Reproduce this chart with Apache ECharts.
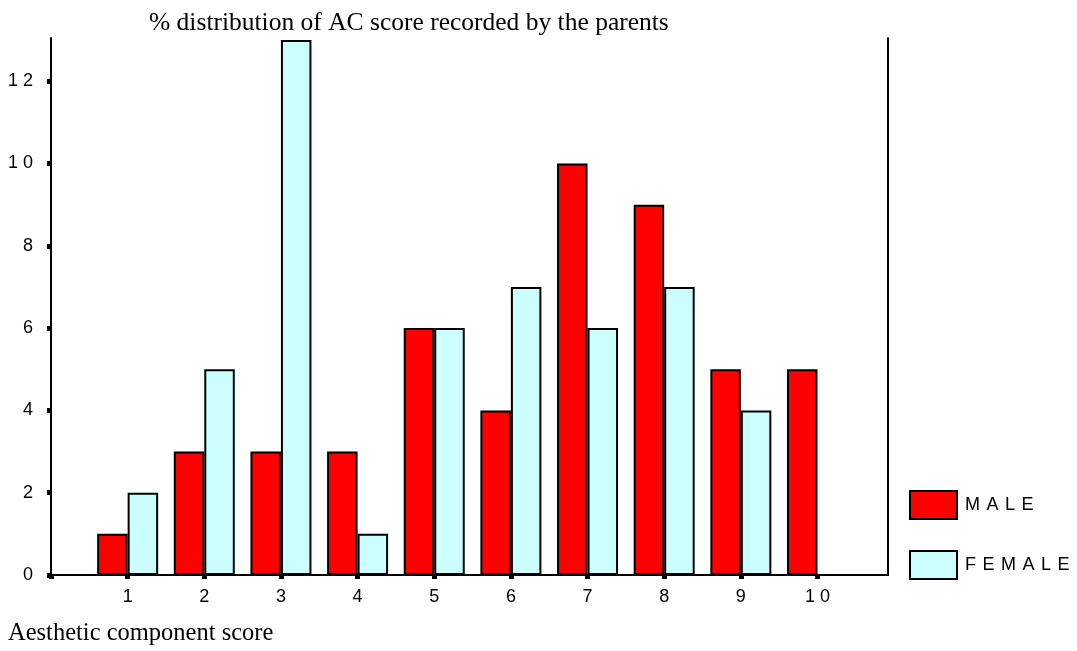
<!DOCTYPE html>
<html><head><meta charset="utf-8">
<script src="https://cdn.jsdelivr.net/npm/echarts@6/dist/echarts.min.js"></script>
<style>html,body{margin:0;padding:0;background:#fff}#c{width:1077px;height:651px}</style>
</head><body><div id="c"></div>
<script>
const categories = [1, 2, 3, 4, 5, 6, 7, 8, 9, 10];
const maleValues = [1, 3, 3, 3, 6, 4, 10, 9, 5, 5];
const femaleValues = [2, 5, 13, 1, 6, 7, 6, 7, 4, 0];
const yTicks = [0, 2, 4, 6, 8, 10, 12];
const seriesNames = ['MALE', 'FEMALE'];
const titleText = '% distribution of AC score recorded by the parents';
const xAxisTitle = 'Aesthetic component score';

const spaced = s => String(s).split('').join(' ');
const chart = echarts.init(document.getElementById('c'));
const sans = 'Liberation Sans, Arial, sans-serif';
const serif = 'Liberation Serif, Times New Roman, serif';
chart.setOption({
  animation: false,
  title: { text: titleText, left: 144, top: 5, textStyle: { fontFamily: serif, fontSize: 25.5, fontWeight: 'normal', color: '#000' } },
  grid: { left: 51, right: 189, top: 38, bottom: 76 },
  legend: {
    orient: 'vertical', left: 904, top: 485, itemWidth: 47, itemHeight: 28, itemGap: 30,
    icon: 'rect',
    textStyle: { fontFamily: sans, fontSize: 18, color: '#000', padding: [0, 0, 0, 3] },
    formatter: n => n.split('').join(' \u200A'),
    data: seriesNames
  },
  xAxis: {
    type: 'value', min: 0, max: 10.92, interval: 1,
    splitLine: { show: false },
    axisLine: { lineStyle: { color: '#000', width: 2 } },
    axisTick: { show: true, length: 4, customValues: [0].concat(categories), lineStyle: { color: '#000', width: 5 } },
    axisLabel: { margin: 13, fontFamily: sans, fontSize: 18, color: '#000',
      customValues: categories, formatter: v => spaced(v) }
  },
  yAxis: [{
    type: 'value', min: 0, max: 13.05, interval: 2,
    splitLine: { show: false },
    axisLine: { show: true, lineStyle: { color: '#000', width: 2 } },
    axisTick: { show: true, length: 4, customValues: yTicks, lineStyle: { color: '#000', width: 5 } },
    axisLabel: { margin: 18, fontFamily: sans, fontSize: 18, color: '#000',
      customValues: yTicks, formatter: v => spaced(v) }
  }, {
    type: 'value', position: 'right', min: 0, max: 13.05, interval: 2,
    splitLine: { show: false },
    axisLine: { show: true, lineStyle: { color: '#000', width: 2 } },
    axisTick: { show: false }, axisLabel: { show: false }
  }],
  graphic: [{
    type: 'text', left: 8, top: 621,
    style: { text: xAxisTitle, font: '24.5px ' + serif, fill: '#000' }
  }],
  series: [{
    name: seriesNames[0], type: 'bar', barWidth: 30.5, barGap: '0%',
    itemStyle: { color: '#ff0000', borderColor: '#000', borderWidth: 2 },
    data: categories.map((c, i) => [c, maleValues[i]])
  }, {
    name: seriesNames[1], type: 'bar', barWidth: 30.5, barGap: '0%',
    itemStyle: { color: '#ccffff', borderColor: '#000', borderWidth: 2 },
    data: categories.map((c, i) => [c, femaleValues[i]]).filter(d => d[1] > 0)
  }]
});
</script></body></html>
